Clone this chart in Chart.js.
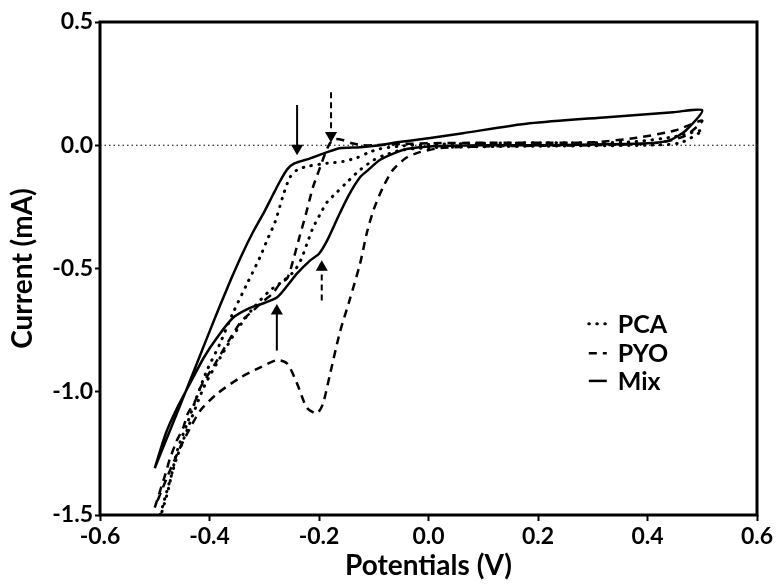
<!DOCTYPE html>
<html>
<head>
<meta charset="utf-8">
<title>Cyclic voltammograms</title>
<script src="https://cdn.jsdelivr.net/npm/chart.js@4.4.1/dist/chart.umd.min.js"></script>
<style>
  html, body { margin: 0; padding: 0; background: #fff; }
  #wrap { width: 779px; height: 587px; position: relative; }
</style>
</head>
<body>
<div id="wrap"><canvas id="cvChart"></canvas></div>
<script>
// potentials (V) and currents (mA), one loop per series
var pcaX = [-0.5, -0.478, -0.459, -0.441, -0.423, -0.405, -0.381, -0.357, -0.331, -0.308, -0.295, -0.28, -0.265, -0.253, -0.24, -0.22, -0.185, -0.156, -0.13, -0.11, -0.09, -0.05, 0.0, 0.1, 0.2, 0.3, 0.38, 0.45, 0.5,
            0.46, 0.4, 0.3, 0.2, 0.1, 0.0, -0.05, -0.08, -0.1, -0.125, -0.149, -0.167, -0.185, -0.198, -0.211, -0.222, -0.232, -0.245, -0.265, -0.29, -0.32, -0.35, -0.38, -0.41, -0.44, -0.46, -0.48, -0.5];
var pcaY = [-1.58, -1.42, -1.24, -1.13, -1.02, -0.915, -0.805, -0.68, -0.56, -0.455, -0.386, -0.31, -0.2, -0.13, -0.1, -0.085, -0.073, -0.066, -0.05, -0.03, -0.015, -0.003, 0.003, 0.008, 0.01, 0.01, 0.015, 0.035, 0.06,
            0.01, 0.0, -0.002, -0.004, -0.006, -0.01, -0.02, -0.04, -0.06, -0.1, -0.15, -0.19, -0.23, -0.28, -0.335, -0.4, -0.46, -0.51, -0.55, -0.59, -0.66, -0.75, -0.86, -0.98, -1.15, -1.27, -1.42, -1.58];

var pyoX = [-0.5, -0.49, -0.48, -0.472, -0.46, -0.448, -0.44, -0.426, -0.417, -0.39, -0.344, -0.32, -0.3, -0.284, -0.271, -0.258, -0.247, -0.236, -0.224, -0.211, -0.198, -0.189, -0.18, -0.17, -0.155, -0.14, -0.12, -0.1, -0.05, 0.0, 0.1, 0.2, 0.3, 0.38, 0.45, 0.5,
            0.47, 0.42, 0.3, 0.2, 0.1, 0.02, -0.016, -0.04, -0.065, -0.083, -0.1, -0.112, -0.125, -0.143, -0.162, -0.18, -0.193, -0.204, -0.222, -0.24, -0.258, -0.277, -0.308, -0.344, -0.386, -0.417, -0.441, -0.459, -0.478, -0.5];
var pyoY = [-1.47, -1.4, -1.33, -1.27, -1.2, -1.146, -1.09, -1.037, -0.984, -0.887, -0.72, -0.67, -0.63, -0.6, -0.56, -0.54, -0.465, -0.375, -0.28, -0.17, -0.09, -0.035, 0.008, 0.025, 0.02, 0.008, 0.0, 0.0, 0.005, 0.008, 0.01, 0.01, 0.012, 0.03, 0.06, 0.1,
            0.04, 0.01, 0.0, -0.002, -0.005, -0.012, -0.028, -0.05, -0.1, -0.17, -0.26, -0.35, -0.48, -0.62, -0.76, -0.93, -1.05, -1.088, -1.065, -0.967, -0.886, -0.872, -0.902, -0.943, -1.008, -1.077, -1.171, -1.252, -1.35, -1.47];

var mixX = [-0.5, -0.48, -0.46, -0.44, -0.42, -0.4, -0.38, -0.36, -0.34, -0.32, -0.3, -0.285, -0.271, -0.258, -0.245, -0.216, -0.185, -0.162, -0.125, -0.089, -0.058, 0.0, 0.063, 0.185, 0.326, 0.447, 0.5,
            0.47, 0.44, 0.4, 0.3, 0.2, 0.1, 0.0, -0.04, -0.06, -0.089, -0.11, -0.125, -0.145, -0.162, -0.185, -0.2, -0.216, -0.24, -0.258, -0.277, -0.3, -0.326, -0.357, -0.386, -0.41, -0.43, -0.459, -0.48, -0.5];
var mixY = [-1.31, -1.2, -1.09, -0.98, -0.868, -0.756, -0.646, -0.54, -0.44, -0.35, -0.27, -0.205, -0.145, -0.098, -0.074, -0.053, -0.028, -0.012, -0.008, 0.0, 0.012, 0.028, 0.049, 0.089, 0.114, 0.134, 0.142,
            0.06, 0.02, 0.008, 0.003, 0.0, 0.0, -0.005, -0.015, -0.03, -0.06, -0.1, -0.13, -0.2, -0.276, -0.386, -0.44, -0.467, -0.52, -0.57, -0.618, -0.64, -0.66, -0.7, -0.78, -0.86, -0.943, -1.065, -1.17, -1.31];

var seriesNames = ['PCA', 'PYO', 'Mix'];

// peak arrows: potential, tail current, head current (mA)
var arrowX     = [-0.24, -0.178, -0.277, -0.195];
var arrowStart = [0.163, 0.215, -0.833, -0.63];
var arrowEnd   = [-0.012, 0.04, -0.672, -0.495];
var arrowDashed = [false, true, false, true];

var zeroLineX = [-0.6, 0.6];
var zeroLineY = [0, 0];

var xTickVals = [-0.6, -0.4, -0.2, 0.0, 0.2, 0.4, 0.6];
var yTickVals = [-1.5, -1.0, -0.5, 0.0, 0.5];

function pts(xs, ys) {
  return xs.map(function(x, i) { return { x: x, y: ys[i] }; });
}

var styles = [
  { borderDash: [0.5, 7.5], borderWidth: 3, borderCapStyle: 'round' },   // PCA dotted
  { borderDash: [8, 6], borderWidth: 2.5, borderCapStyle: 'butt' },      // PYO dashed
  { borderDash: [], borderWidth: 2.5, borderCapStyle: 'butt' }           // Mix solid
];
var seriesData = [pts(pcaX, pcaY), pts(pyoX, pyoY), pts(mixX, mixY)];

var datasets = [];
for (var s = 0; s < seriesNames.length; s++) {
  datasets.push({
    label: seriesNames[s],
    data: seriesData[s],
    showLine: true,
    borderColor: '#000',
    backgroundColor: '#000',
    borderWidth: styles[s].borderWidth,
    borderDash: styles[s].borderDash,
    borderCapStyle: styles[s].borderCapStyle,
    borderJoinStyle: 'round',
    tension: 0.25,
    pointRadius: 0,
    fill: false
  });
}

for (var a = 0; a < arrowX.length; a++) {
  var down = arrowEnd[a] < arrowStart[a];
  datasets.push({
    label: 'arrow' + a,
    data: [{ x: arrowX[a], y: arrowStart[a] }, { x: arrowX[a], y: arrowEnd[a] }],
    showLine: true,
    borderColor: '#000',
    backgroundColor: '#000',
    borderWidth: 2,
    borderDash: arrowDashed[a] ? [6, 4] : [],
    pointRadius: [0, 7],
    pointStyle: 'triangle',
    pointRotation: [0, down ? 180 : 0],
    pointBorderWidth: 0,
    pointBackgroundColor: '#000'
  });
}

datasets.push({
  label: 'zero',
  data: pts(zeroLineX, zeroLineY),
  showLine: true,
  borderColor: '#000',
  borderWidth: 1.2,
  borderDash: [1.5, 3],
  pointRadius: 0
});

// box round the plot area
var frame = {
  id: 'frame',
  afterDraw: function(chart) {
    var c = chart.chartArea, ctx = chart.ctx;
    ctx.save();
    ctx.strokeStyle = '#000';
    ctx.lineWidth = 3;
    ctx.strokeRect(c.left, c.top, c.right - c.left, c.bottom - c.top);
    ctx.restore();
  }
};

// legend inside the plot, lower right
var cvLegend = {
  id: 'cvLegend',
  afterDatasetsDraw: function(chart) {
    var c = chart.chartArea, ctx = chart.ctx;
    var w = c.right - c.left, h = c.bottom - c.top;
    var x0 = c.left + 0.744 * w, x1 = x0 + 18, tx = c.left + 0.788 * w;
    var rows = [0.612, 0.672, 0.728];
    ctx.save();
    ctx.font = 'bold 25px Lato';
    ctx.fillStyle = '#000';
    ctx.textBaseline = 'middle';
    for (var i = 0; i < seriesNames.length; i++) {
      var y = c.top + rows[i] * h;
      ctx.beginPath();
      ctx.strokeStyle = '#000';
      ctx.lineWidth = styles[i].borderWidth;
      ctx.lineCap = styles[i].borderCapStyle;
      ctx.setLineDash(styles[i].borderDash);
      ctx.moveTo(x0, y);
      ctx.lineTo(x1, y);
      ctx.stroke();
      ctx.setLineDash([]);
      ctx.fillText(seriesNames[i], tx, y + 1);
    }
    ctx.restore();
  }
};

Chart.defaults.font.family = 'Lato';
Chart.defaults.color = '#000';

var ctx = document.getElementById('cvChart').getContext('2d');
var myChart = new Chart(ctx, {
  type: 'scatter',
  data: { datasets: datasets },
  options: {
    responsive: true,
    maintainAspectRatio: false,
    animation: false,
    layout: { padding: { left: 4, right: 22, top: 22, bottom: 2 } },
    plugins: {
      legend: { display: false },
      tooltip: { enabled: false }
    },
    scales: {
      x: {
        type: 'linear',
        min: -0.6,
        max: 0.6,
        afterBuildTicks: function(scale) {
          scale.ticks = xTickVals.map(function(v) { return { value: v }; });
        },
        afterFit: function(scale) { scale.height = 70; },
        border: { display: false },
        grid: { drawOnChartArea: false, drawTicks: true, tickLength: 6, tickWidth: 2, tickColor: '#000', color: '#000' },
        ticks: {
          padding: 2,
          font: { size: 23, weight: 'bold' },
          maxRotation: 0,
          callback: function(v) { return Number(v).toFixed(1); }
        },
        title: { display: true, text: 'Potentials (V)', font: { size: 28, weight: 'bold' }, padding: { top: 0, bottom: 2 } }
      },
      y: {
        type: 'linear',
        min: -1.5,
        max: 0.5,
        afterBuildTicks: function(scale) {
          scale.ticks = yTickVals.map(function(v) { return { value: v }; });
        },
        afterFit: function(scale) { scale.width = 96; },
        border: { display: false },
        grid: { drawOnChartArea: false, drawTicks: true, tickLength: 5, tickWidth: 2, tickColor: '#000', color: '#000' },
        ticks: {
          padding: 2,
          font: { size: 23, weight: 'bold' },
          callback: function(v) { return Number(v).toFixed(1); }
        },
        title: { display: true, text: 'Current (mA)', font: { size: 28, weight: 'bold' }, padding: { top: 2, bottom: 0 } }
      }
    }
  },
  plugins: [frame, cvLegend]
});
</script>
</body>
</html>
